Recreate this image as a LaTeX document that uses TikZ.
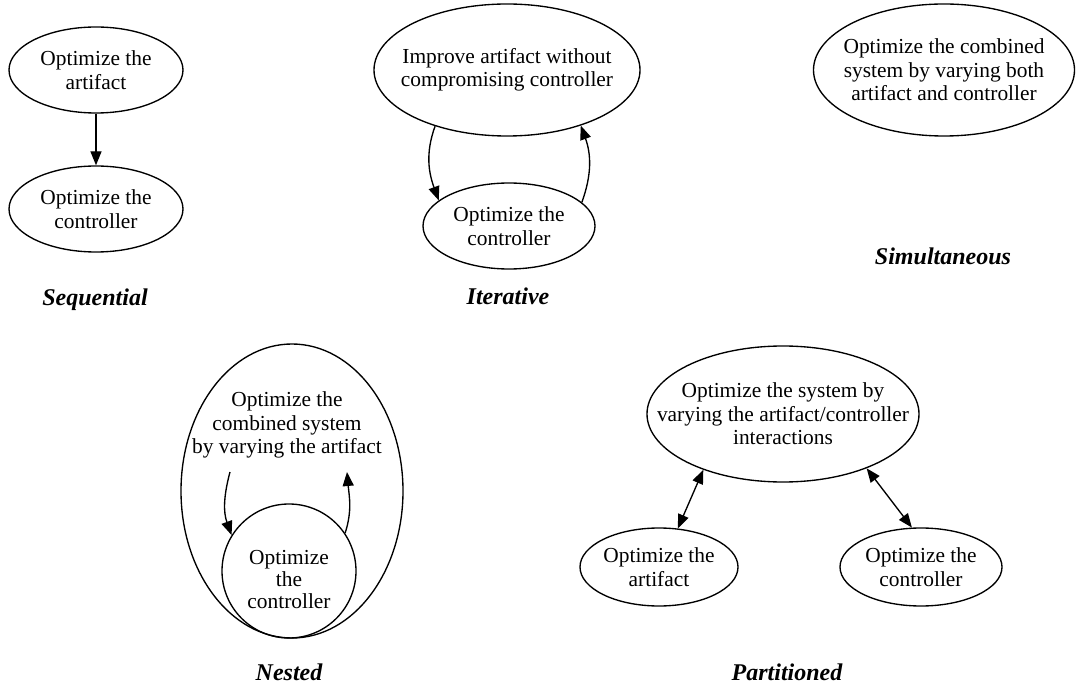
\documentclass[tikz,border=0pt]{standalone}
\usepackage{fontspec}
\setmainfont{Liberation Serif}
\usetikzlibrary{shapes.geometric,arrows.meta}
\begin{document}
\begin{tikzpicture}[x=1pt,y=-1pt,
  ell/.style={draw, ellipse, inner sep=0pt, line width=1.35pt},
  txt/.style={font=\fontsize{21.4}{23.5}\selectfont, align=center, inner sep=0pt},
  captxt/.style={font=\fontsize{24}{28}\selectfont\bfseries\itshape, anchor=base, inner sep=0pt},
  arr/.style={line width=1.35pt, -{Triangle[length=14pt,width=11pt]}},
  darr/.style={line width=1.35pt, {Triangle[length=14pt,width=11pt]}-{Triangle[length=14pt,width=11pt]}}]
\useasboundingbox (0,0) rectangle (1076,684);

% Sequential
\node[ell, minimum width=174pt, minimum height=86pt] (s1) at (96,70) {};
\node[txt] (s1t) at (s1) {Optimize the\\artifact};
\node[ell, minimum width=174pt, minimum height=86pt] (s2) at (96,209) {};
\node[txt] (s2t) at (s2) {Optimize the\\controller};
\draw[arr] (s1) -- (s2);
\node[captxt] (capS) at (95,306) {Sequential};

% Iterative
\node[ell, minimum width=266pt, minimum height=132pt] (i1) at (507,70) {};
\node[txt] (i1t) at (i1) {Improve artifact without\\compromising controller};
\node[ell, minimum width=172pt, minimum height=86pt] (i2) at (509,226) {};
\node[txt] (i2t) at (i2) {Optimize the\\controller};
\draw[arr] (i1.218) to[out=250,in=110] (i2.160);
\draw[arr] (i2.18) to[out=70,in=290] (i1.323);
\node[captxt] (capI) at (508,305) {Iterative};

% Simultaneous
\node[ell, minimum width=261pt, minimum height=132pt] (m1) at (944,70) {};
\node[txt] (m1t) at (m1) {Optimize the combined\\system by varying both\\artifact and controller};
\node[captxt] (capM) at (943,265) {Simultaneous};

% Nested
\node[ell, minimum width=222pt, minimum height=294pt] (nout) at (292,491) {};
\node[txt] (noutt) at (287,425) {Optimize the\\combined system\\by varying the artifact};
\node[ell, minimum width=134pt, minimum height=134pt] (nin) at (289,571) {};
\node[txt, font=\fontsize{21.4}{22}\selectfont] (nint) at (289,580) {Optimize\\the\\controller};
\coordinate (nl) at (230,472);
\coordinate (nr) at (347,472);
\draw[arr] (nl) to[out=255,in=110] (nin.148);
\draw[arr] (nin.34) to[out=72,in=275] (nr);
\node[captxt] (capN) at (289,680) {Nested};

% Partitioned
\node[ell, minimum width=272pt, minimum height=136pt] (p0) at (783,414) {};
\node[txt] (p0t) at (p0) {Optimize the system by\\varying the artifact/controller\\interactions};
\node[ell, minimum width=158pt, minimum height=78pt] (p1) at (659,567) {};
\node[txt] (p1t) at (p1) {Optimize the\\artifact};
\node[ell, minimum width=162pt, minimum height=78pt] (p2) at (921,567) {};
\node[txt] (p2t) at (p2) {Optimize the\\controller};
\draw[darr] (p0.215) -- (p1.64);
\draw[darr] (p0.327) -- (p2.103);
\node[captxt] (capP) at (787,680) {Partitioned};
\end{tikzpicture}
\end{document}
